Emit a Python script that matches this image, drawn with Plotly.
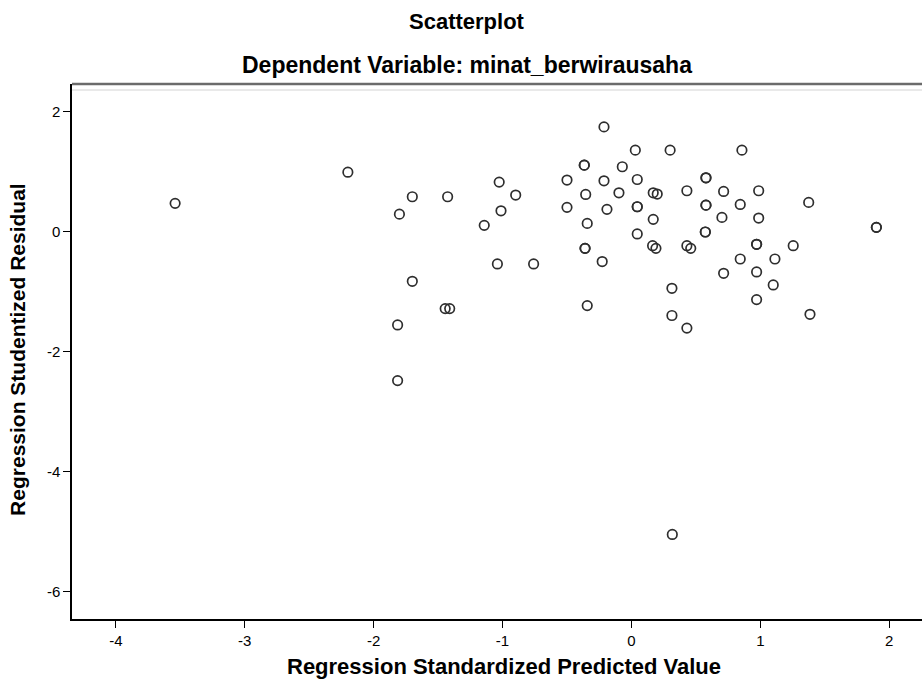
import plotly.graph_objects as go

# Regression Standardized Predicted Value
pred = [-3.54, -2.20, -1.70, -1.426, -1.80, -1.70, -1.445, -1.41, -1.814, -1.814,
        -1.026, -0.898, -1.012, -1.142, -1.04, -0.759, -0.213, 0.03, 0.30, -0.366,
        -0.366, -0.071, -0.50, -0.213, 0.045, -0.355, -0.097, 0.169, 0.20, -0.50,
        -0.19, 0.045, 0.045, -0.343, 0.169, 0.045, -0.36, -0.36, 0.164, 0.19,
        -0.227, -0.343, 0.314, 0.314, 0.317, 0.857, 0.578, 0.578, 0.43, 0.715,
        0.987, 0.578, 0.578, 0.844, 1.375, 0.702, 0.987, 1.90, 1.90, 0.573,
        0.573, 0.43, 0.46, 0.971, 0.971, 1.255, 0.844, 1.113, 0.715, 0.971,
        1.10, 0.971, 0.43, 1.385]
# Regression Studentized Residual
resid = [0.47, 0.99, 0.58, 0.58, 0.29, -0.83, -1.285, -1.285, -1.557, -2.485,
         0.824, 0.608, 0.346, 0.103, -0.54, -0.54, 1.745, 1.357, 1.357, 1.107,
         1.107, 1.08, 0.858, 0.846, 0.868, 0.619, 0.646, 0.646, 0.625, 0.403,
         0.37, 0.413, 0.413, 0.136, 0.203, -0.04, -0.28, -0.28, -0.236, -0.28,
         -0.50, -1.235, -0.946, -1.40, -5.05, 1.357, 0.896, 0.896, 0.68, 0.669,
         0.68, 0.44, 0.44, 0.452, 0.486, 0.236, 0.225, 0.07, 0.07, -0.008,
         -0.008, -0.236, -0.28, -0.213, -0.213, -0.236, -0.458, -0.458, -0.696, -0.674,
         -0.89, -1.135, -1.61, -1.38]

x_ticks = [-4, -3, -2, -1, 0, 1, 2]
x_tick_labels = ["-4", "-3", "-2", "-1", "0", "1", "2"]
y_ticks = [2, 0, -2, -4, -6]
y_tick_labels = ["2", "0", "-2", "-4", "-6"]
x_range = [-4.34, 2.254]
y_range = [-6.46, 2.46]

title_text = "Scatterplot"
subtitle_text = "Dependent Variable: minat_berwirausaha"
x_title = "Regression Standardized Predicted Value"
y_title = "Regression Studentized Residual"

TF = "Liberation Sans, Arial, sans-serif"

fig = go.Figure()
fig.add_trace(go.Scatter(
    x=pred, y=resid, mode="markers",
    marker=dict(symbol="circle-open", size=9.5, color="#2e2e2e",
                line=dict(width=1.7, color="#2e2e2e")),
    hoverinfo="x+y", showlegend=False,
))

axis_common = dict(ticks="outside", ticklen=7, tickwidth=1.3, tickcolor="#000",
                   showline=True, linecolor="#000", linewidth=1.5,
                   showgrid=False, zeroline=False, mirror=False,
                   tickfont=dict(size=15, family=TF, color="#000"))

fig.update_layout(
    width=922, height=684,
    margin=dict(l=72, r=0, t=84, b=65),
    paper_bgcolor="white", plot_bgcolor="white",
    font=dict(family=TF, color="#000000"),
    xaxis=dict(range=x_range, tickvals=x_ticks, ticktext=x_tick_labels, **axis_common),
    yaxis=dict(range=y_range, tickvals=y_ticks, ticktext=y_tick_labels, **axis_common),
    annotations=[
        dict(text="<b>" + title_text + "</b>", xref="paper", yref="paper",
             x=0.4647, y=1, xanchor="center", yanchor="middle", yshift=63,
             showarrow=False, font=dict(size=22, family=TF, color="#000")),
        dict(text="<b>" + subtitle_text + "</b>", xref="paper", yref="paper",
             x=0.4647, y=1, xanchor="center", yanchor="middle", yshift=19,
             showarrow=False, font=dict(size=23, family=TF, color="#000")),
        dict(text="<b>" + x_title + "</b>", xref="paper", yref="paper",
             x=0.5082, y=0, xanchor="center", yanchor="middle", yshift=-47,
             showarrow=False, font=dict(size=22, family=TF, color="#000")),
        dict(text="<b>" + y_title + "</b>", xref="paper", yref="paper",
             x=0, y=0.503, xanchor="center", yanchor="middle", xshift=-54,
             textangle=-90, showarrow=False,
             font=dict(size=21, family=TF, color="#000")),
    ],
    shapes=[
        dict(type="line", xref="paper", yref="paper", x0=0, x1=1, y0=1, y1=1,
             line=dict(color="#6b6b6b", width=2.5)),
        dict(type="line", xref="paper", yref="paper", x0=0, x1=1,
             ysizemode="pixel", yanchor=1, y0=-6, y1=-6,
             line=dict(color="#e2e2e2", width=1.5)),
    ],
)

fig.write_html("out.html", config={"displayModeBar": False},
               post_script="document.body.style.margin='0';document.body.style.overflow='hidden';")
